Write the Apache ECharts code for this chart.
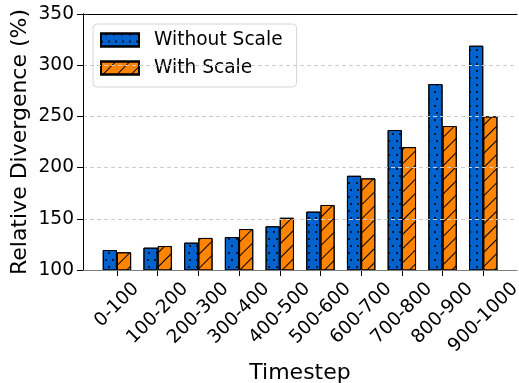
<!DOCTYPE html>
<html>
<head>
<meta charset="utf-8">
<script src="https://cdn.jsdelivr.net/npm/echarts@6/dist/echarts.min.js"></script>
<style>
  html, body { margin: 0; padding: 0; background: #fff; }
  #chart { width: 519px; height: 383px; }
</style>
</head>
<body>
<div id="chart"></div>
<script>
// data
const categories = ['0-100', '100-200', '200-300', '300-400', '400-500',
  '500-600', '600-700', '700-800', '800-900', '900-1000'];
const withoutScale = [119.5, 121.8, 126.7, 132.2, 142.7, 157, 192, 236.7, 281.6, 319];
const withScale = [117.3, 123.4, 131.3, 140, 151, 163.5, 189.5, 220, 240.6, 250];
const yMin = 100;
const yMax = 350;
const yStep = 50;

const FONT = 'DejaVu Sans';
const tickFont = 18.6;

// matplotlib centres rotated tick labels, so push longer labels further down
const measure = document.createElement('canvas').getContext('2d');
measure.font = tickFont + 'px "' + FONT + '"';
const rich = {};
categories.forEach((c, i) => {
  const k = measure.measureText(c).width * 0.5;
  rich['c' + i] = {
    fontFamily: FONT,
    fontSize: tickFont,
    color: '#000',
    padding: [k, k, 0, 0]
  };
});

const chart = echarts.init(document.getElementById('chart'));

const hidden = { show: false };

const option = {
  animation: false,
  textStyle: { fontFamily: FONT },
  grid: [
    // frame
    { left: 83, right: 2, top: 14, bottom: 113, outerBoundsMode: 'none' },
    // bars (category bands inside the frame margins)
    { left: 96.6, right: 15.4, top: 14, bottom: 113, outerBoundsMode: 'none' }
  ],
  legend: {
    orient: 'vertical',
    left: 93,
    top: 24,
    icon: 'rect',
    itemWidth: 38,
    itemHeight: 13,
    itemGap: 6,
    padding: [5, 14, 8, 7],
    borderColor: '#d6d6d6',
    borderWidth: 1,
    borderRadius: 4,
    backgroundColor: '#fff',
    textStyle: {
      fontFamily: FONT,
      fontSize: 18.6,
      color: '#000',
      lineHeight: 22,
      padding: [0, 0, 0, 10]
    },
    data: ['Without Scale', 'With Scale']
  },
  xAxis: [
    {
      gridIndex: 0, type: 'value', position: 'bottom', min: 0, max: 1, z: 5,
      axisLine: { show: true, lineStyle: { color: '#7f7f7f', width: 1.2 } },
      axisTick: hidden, axisLabel: hidden, splitLine: hidden,
      name: 'Timestep', nameLocation: 'middle', nameGap: 92, nameMoveOverlap: false,
      nameTextStyle: { fontFamily: FONT, fontSize: 22, color: '#000' }
    },
    {
      gridIndex: 0, type: 'value', position: 'top', min: 0, max: 1, z: 5,
      axisLine: { show: true, lineStyle: { color: '#000', width: 1 } },
      axisTick: hidden, axisLabel: hidden, splitLine: hidden
    },
    {
      gridIndex: 1, type: 'category', data: categories, boundaryGap: true,
      axisLine: hidden,
      axisTick: { show: true, alignWithLabel: true, length: 6, lineStyle: { color: '#000' } },
      axisLabel: {
        interval: 0,
        rotate: 45,
        align: 'center',
        verticalAlign: 'middle',
        margin: 16,
        formatter: (v, i) => '{c' + i + '|' + v + '}',
        rich: rich
      },
      splitLine: hidden
    }
  ],
  yAxis: [
    {
      gridIndex: 0, type: 'value', min: yMin, max: yMax, interval: yStep, z: 5,
      axisLine: { show: true, lineStyle: { color: '#000', width: 1 } },
      axisTick: { show: true, length: 6, lineStyle: { color: '#000' } },
      axisLabel: { fontFamily: FONT, fontSize: tickFont, color: '#000', margin: 9 },
      splitLine: { show: true, lineStyle: { color: '#cccccc', type: [4, 3], width: 1 } },
      name: 'Relative Divergence (%)', nameLocation: 'middle', nameGap: 52, nameMoveOverlap: false,
      nameTextStyle: { fontFamily: FONT, fontSize: 22, color: '#000' }
    },
    {
      gridIndex: 0, type: 'value', position: 'right', min: yMin, max: yMax, z: 5,
      axisLine: { show: true, lineStyle: { color: '#000', width: 1 } },
      axisTick: hidden, axisLabel: hidden, splitLine: hidden
    },
    {
      gridIndex: 1, type: 'value', min: yMin, max: yMax, show: false
    }
  ],
  series: [
    {
      name: 'Without Scale',
      type: 'bar',
      xAxisIndex: 2,
      yAxisIndex: 2,
      barWidth: 14.2,
      barGap: '0%',
      data: withoutScale,
      itemStyle: {
        color: '#0062cc',
        borderColor: '#000',
        borderWidth: 1,
        decal: {
          symbol: 'circle',
          symbolSize: 1,
          color: '#000',
          dashArrayX: [[2, 4.7], [0, 3.35, 2, 1.35]],
          dashArrayY: [2, 4.7]
        }
      }
    },
    {
      name: 'With Scale',
      type: 'bar',
      xAxisIndex: 2,
      yAxisIndex: 2,
      barWidth: 14.2,
      barGap: '0%',
      data: withScale,
      itemStyle: {
        color: '#ff8400',
        borderColor: '#000',
        borderWidth: 1,
        decal: {
          symbol: 'rect',
          symbolSize: 1,
          color: '#000',
          dashArrayX: [1, 0],
          dashArrayY: [1, 8.4],
          rotation: -Math.PI / 4
        }
      }
    }
  ]
};

chart.setOption(option);
</script>
</body>
</html>
